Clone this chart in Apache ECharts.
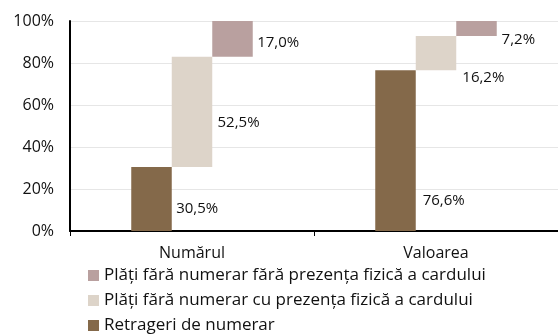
<!DOCTYPE html>
<html>
<head>
<meta charset="utf-8">
<script src="https://cdn.jsdelivr.net/npm/echarts@6/dist/echarts.min.js"></script>
<style>
  html, body { margin: 0; padding: 0; background: #fff; }
  #chart { width: 558px; height: 334px; }
</style>
</head>
<body>
<div id="chart"></div>
<script>
// Categories and shares (%) of the three card-transaction types
const categories = ['Numărul', 'Valoarea'];
const retrageri = [30.5, 76.6];          // Retrageri de numerar
const cuPrezenta = [52.5, 16.2];         // Plăți fără numerar cu prezența fizică a cardului
const faraPrezenta = [17.0, 7.2];        // Plăți fără numerar fără prezența fizică a cardului
const yTicks = [0, 20, 40, 60, 80, 100];

const names = {
  retrageri: 'Retrageri de numerar',
  cu: 'Plăți fără numerar cu prezența fizică a cardului',
  fara: 'Plăți fără numerar fără prezența fizică a cardului'
};
const colors = { retrageri: '#84694a', cu: '#ddd4c9', fara: '#b9a09f' };

// Invisible offsets so each step starts where the previous one ended
const baseCu = retrageri.map((v) => v);
const baseFara = retrageri.map((v, i) => v + cuPrezenta[i]);

// Label placement relative to each bar's rectangle (x%, y%)
const labelPlacement = {
  retrageri: [['111%', '66%'], ['117%', '81%']],
  cu: [['113%', '60%'], ['115%', '121%']],
  fara: [['111%', '62%'], ['112%', '127%']]
};

const FONT = '"Open Sans", sans-serif';
const fmt = (v) => v.toFixed(1).replace('.', ',') + '%';

function stepData(values, key) {
  return values.map((v, i) => ({
    value: v,
    label: { position: labelPlacement[key][i] }
  }));
}

function realSeries(key, values, stack) {
  return {
    name: names[key],
    type: 'bar',
    stack: stack,
    barWidth: 40.5,
    barGap: '0%',
    itemStyle: { color: colors[key] },
    label: {
      show: true,
      formatter: (p) => fmt(p.value),
      verticalAlign: 'middle',
      align: 'left',
      color: '#111',
      fontFamily: FONT,
      fontSize: 15
    },
    data: stepData(values, key)
  };
}

function baseSeries(values, stack) {
  return {
    type: 'bar',
    stack: stack,
    barWidth: 40.5,
    barGap: '0%',
    silent: true,
    itemStyle: { color: 'transparent' },
    emphasis: { disabled: true },
    data: values
  };
}

const chart = echarts.init(document.getElementById('chart'), null, { renderer: 'canvas' });
chart.setOption({
  animation: false,
  backgroundColor: '#fff',
  grid: { left: 70, right: 0, top: 21, bottom: 103, containLabel: false },
  xAxis: {
    type: 'category',
    data: categories,
    axisLine: { lineStyle: { color: '#000', width: 2 } },
    axisTick: { show: true, length: 5, lineStyle: { color: '#000', width: 1 } },
    axisLabel: { color: '#111', fontFamily: FONT, fontSize: 16, margin: 14 }
  },
  yAxis: {
    type: 'value',
    min: yTicks[0],
    max: yTicks[yTicks.length - 1],
    interval: yTicks[1] - yTicks[0],
    axisLine: { show: true, lineStyle: { color: '#000', width: 2 } },
    axisTick: { show: false },
    axisLabel: {
      color: '#111', fontFamily: FONT, fontSize: 16, margin: 16,
      formatter: (v) => v + '%'
    },
    splitLine: { lineStyle: { color: '#e6e6e6', width: 1 } }
  },
  legend: {
    orient: 'vertical',
    left: 83,
    top: 262,
    height: 72,
    itemWidth: 11,
    itemHeight: 11,
    itemGap: 8,
    icon: 'rect',
    textStyle: { color: '#111', fontFamily: FONT, fontSize: 17, lineHeight: 17 },
    data: [names.fara, names.cu, names.retrageri]
  },
  series: [
    realSeries('retrageri', retrageri, 'a'),
    baseSeries(baseCu, 'b'),
    realSeries('cu', cuPrezenta, 'b'),
    baseSeries(baseFara, 'c'),
    realSeries('fara', faraPrezenta, 'c')
  ]
});
</script>
</body>
</html>
